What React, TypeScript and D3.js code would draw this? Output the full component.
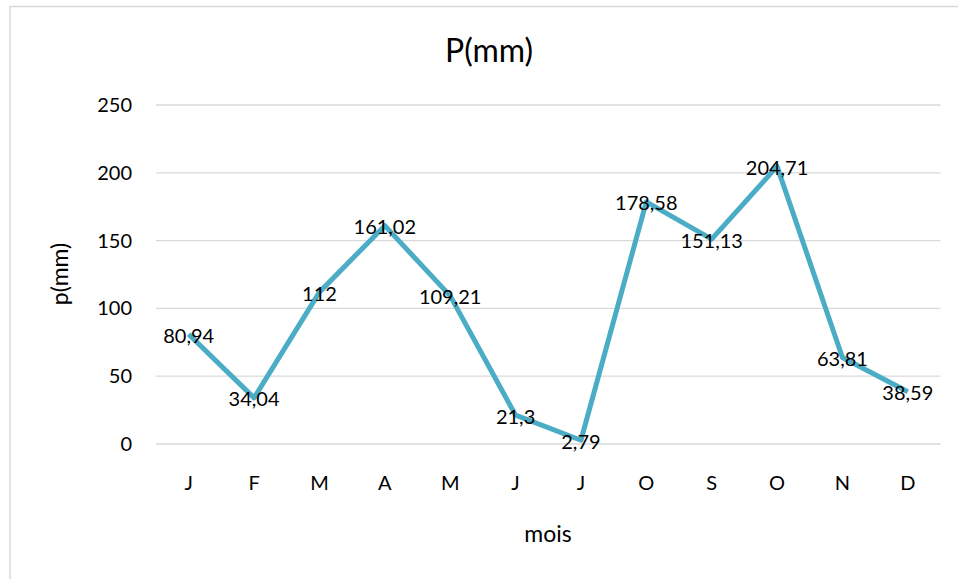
import React from "react";
import * as d3 from "d3";

const months = ["J", "F", "M", "A", "M", "J", "J", "O", "S", "O", "N", "D"];
const precip = [80.94, 34.04, 112, 161.02, 109.21, 21.3, 2.79, 178.58, 151.13, 204.71, 63.81, 38.59];
const precipLabels = ["80,94", "34,04", "112", "161,02", "109,21", "21,3", "2,79", "178,58", "151,13", "204,71", "63,81", "38,59"];
const yTicks = [0, 50, 100, 150, 200, 250];
const chartTitle = "P(mm)";
const yTitle = "p(mm)";
const xTitle = "mois";

const W = 958;
const H = 579;
const FONT = "Lato, 'Open Sans', sans-serif";

export default function App() {
  const left = 156;
  const right = 940.5;
  const top = 105;
  const bottom = 444;
  const idx = months.map((_, i) => i);
  const x = d3.scaleBand<number>().domain(idx).range([left, right]).padding(0);
  const y = d3.scaleLinear().domain([0, 250]).range([bottom, top]);
  const cx = (i: number) => (x(i) as number) + x.bandwidth() / 2;
  const line = d3
    .line<number>()
    .x((_, i) => cx(i))
    .y((d) => y(d));

  return (
    <svg
      width={W}
      height={H}
      style={{ position: "absolute", left: 0, top: 0, background: "#fff" }}
      fontFamily={FONT}
    >
      <rect x={0} y={0} width={W} height={H} fill="#fff" />
      <rect x={10} y={6.5} width={W + 20} height={H + 20} fill="#fff" stroke="#d9d9d9" strokeWidth={1.5} />
      <text x={489} y={61.5} textAnchor="middle" fontSize={32} fill="#000">
        {chartTitle}
      </text>
      {yTicks.map((t) => (
        <g key={t}>
          <line x1={left} x2={right} y1={y(t)} y2={y(t)} stroke="#d9d9d9" strokeWidth={1.3} />
          <text x={132} y={y(t) + 7} textAnchor="end" fontSize={20} fill="#000">
            {t}
          </text>
        </g>
      ))}
      {months.map((m, i) => (
        <text key={i} x={cx(i)} y={490} textAnchor="middle" fontSize={20} fill="#000">
          {m}
        </text>
      ))}
      <path d={line(precip) || ""} fill="none" stroke="#4BACC6" strokeWidth={5} strokeLinejoin="round" />
      {precip.map((v, i) => (
        <text key={i} x={cx(i)} y={y(v) + 8.5} textAnchor="middle" fontSize={20} fill="#000">
          {precipLabels[i]}
        </text>
      ))}
      <text
        transform={`translate(68,274) rotate(-90)`}
        textAnchor="middle"
        fontSize={23}
        fill="#000"
      >
        {yTitle}
      </text>
      <text x={548} y={541.5} textAnchor="middle" fontSize={23} fill="#000">
        {xTitle}
      </text>
    </svg>
  );
}
